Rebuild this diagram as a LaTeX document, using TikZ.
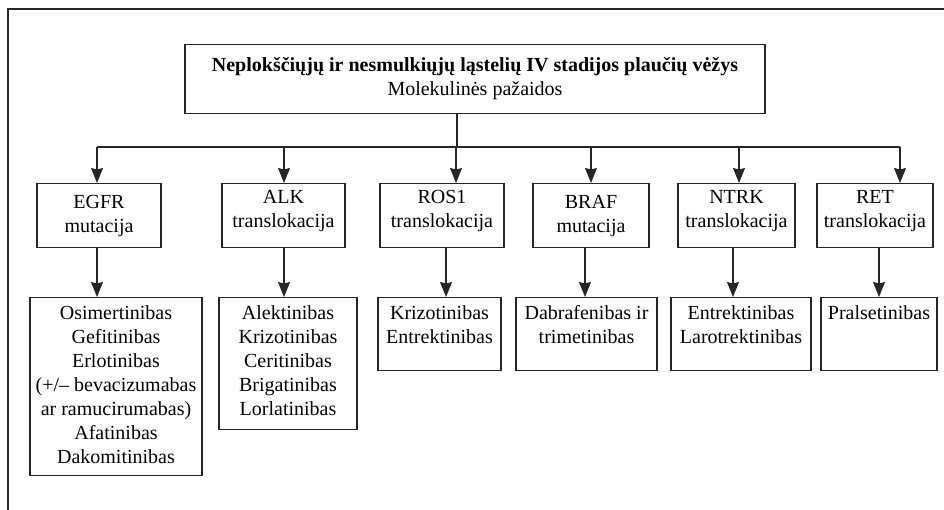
\documentclass[tikz,border=0pt]{standalone}
\usepackage{fontspec}
\setmainfont{Liberation Serif}
\usetikzlibrary{arrows.meta}

% fixed-size text block: height, width, first-baseline drop, lines
\newcommand\textblock[4]{\parbox[c][#1][t]{#2}{\centering\rule{0pt}{#3}#4}}

\begin{document}
\begin{tikzpicture}[x=1pt,y=-1pt,
  box/.style={draw=black!85, line width=1.1pt, inner sep=0pt, anchor=north,
    font=\fontsize{20}{24}\selectfont},
  ln/.style={draw=black!85, line width=1.1pt},
  arr/.style={ln, -{Stealth[length=15pt,width=12pt,inset=1.5pt]}}]
\useasboundingbox (0,0) rectangle (944,510);

% partial frame
\draw[ln] (8,510) -- (8,9) -- (944,9);

% header
\node[box] (top) at (475,44)
  {\textblock{69pt}{580pt}{27pt}{\textbf{Neplokščiųjų ir nesmulkiųjų ląstelių IV stadijos plaučių vėžys}\\Molekulinės pažaidos}};

% alterations
\node[box] (g1) at (99,183)    {\textblock{64pt}{124pt}{25pt}{EGFR\\mutacija}};
\node[box] (g2) at (283.5,183) {\textblock{64pt}{123pt}{20pt}{ALK\\translokacija}};
\node[box] (g3) at (442,183)   {\textblock{64pt}{124pt}{20pt}{ROS1\\translokacija}};
\node[box] (g4) at (591,183)   {\textblock{64pt}{116pt}{25pt}{BRAF\\mutacija}};
\node[box] (g5) at (736.5,183) {\textblock{64pt}{117pt}{20pt}{NTRK\\translokacija}};
\node[box] (g6) at (875,183)   {\textblock{64pt}{116pt}{20pt}{RET\\translokacija}};

% treatments
\node[box] (d1) at (116,297)   {\textblock{178pt}{172pt}{22pt}{Osimertinibas\\Gefitinibas\\Erlotinibas\\(+/– bevacizumabas\\ar ramucirumabas)\\Afatinibas\\Dakomitinibas}};
\node[box] (d2) at (288,297)   {\textblock{132pt}{138pt}{22pt}{Alektinibas\\Krizotinibas\\Ceritinibas\\Brigatinibas\\Lorlatinibas}};
\node[box] (d3) at (439.5,297) {\textblock{73pt}{123pt}{22pt}{Krizotinibas\\Entrektinibas}};
\node[box] (d4) at (586.5,297) {\textblock{73pt}{141pt}{22pt}{Dabrafenibas ir\\trimetinibas}};
\node[box] (d5) at (741,297)   {\textblock{73pt}{140pt}{22pt}{Entrektinibas\\Larotrektinibas}};
\node[box] (d6) at (879,297)   {\textblock{73pt}{116pt}{22pt}{Pralsetinibas}};

% distribution bus
\coordinate (stem) at (457,147);
\coordinate (busL) at (97,147);
\coordinate (busR) at (900,147);
\draw[ln] (stem |- top.south) -- (stem);
\draw[ln] (busL) -- (busR);
\foreach \x/\n in {97/1,284/2,456/3,591/4,739/5,900/6}{
  \coordinate (t\n) at (\x,147);
  \draw[arr] (t\n) -- (t\n |- g\n.north);
}
\foreach \x/\n in {97/1,284/2,446/3,585/4,733/5,879/6}{
  \coordinate (s\n) at (\x,247);
  \draw[arr] (s\n |- g\n.south) -- (s\n |- d\n.north);
}
\end{tikzpicture}
\end{document}
